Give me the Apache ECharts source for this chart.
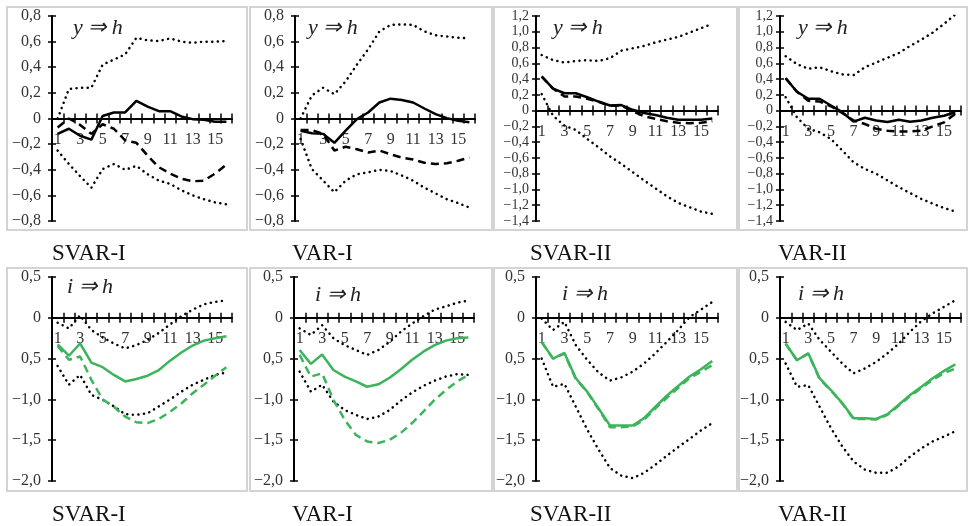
<!DOCTYPE html>
<html>
<head>
<meta charset="utf-8">
<script src="https://cdn.jsdelivr.net/npm/echarts@6/dist/echarts.min.js"></script>
<style>
html,body{margin:0;padding:0;background:#fff;}
#chart{width:970px;height:526px;}
</style>
</head>
<body>
<div id="chart"></div>
<script>
// ---------------- DATA ----------------
const horizons = ['1','2','3','4','5','6','7','8','9','10','11','12','13','14','15','16'];

const yTicksTop = ['−0,8','−0,6','−0,4','−0,2','0','0,2','0,4','0,6','0,8'];
const yTicksTopII = ['−1,4','−1,2','−1,0','−0,8','−0,6','−0,4','−0,2','0','0,2','0,4','0,6','0,8','1,0','1,2'];
const yTicksBottom = ['−2,0','−1,5','−1,0','0,5','0','0,5'];

const panelNames = ['SVAR-I','VAR-I','SVAR-II','VAR-II','SVAR-I','VAR-I','SVAR-II','VAR-II'];
const panelTitles = ['y ⇒ h','y ⇒ h','y ⇒ h','y ⇒ h','i ⇒ h','i ⇒ h','i ⇒ h','i ⇒ h'];

// y => h, SVAR-I
const svarI_y_solid = [-0.12,-0.08,-0.135,-0.165,0.02,0.047,0.047,0.138,0.093,0.057,0.057,0.016,-0.005,-0.01,-0.026,-0.026];
const svarI_y_dash  = [-0.07,0.0,-0.05,-0.12,-0.045,-0.08,-0.17,-0.19,-0.29,-0.38,-0.43,-0.47,-0.49,-0.485,-0.43,-0.36];
const svarI_y_up    = [0.0,0.23,0.24,0.24,0.42,0.46,0.5,0.63,0.61,0.605,0.625,0.6,0.59,0.6,0.6,0.605];
const svarI_y_lo    = [-0.25,-0.355,-0.45,-0.54,-0.395,-0.355,-0.4,-0.37,-0.435,-0.485,-0.51,-0.56,-0.6,-0.63,-0.655,-0.67];
// y => h, VAR-I
const varI_y_solid = [-0.095,-0.115,-0.12,-0.19,-0.095,-0.005,0.047,0.125,0.155,0.145,0.125,0.078,0.034,0.003,-0.018,-0.03];
const varI_y_dash  = [-0.09,-0.09,-0.12,-0.25,-0.22,-0.24,-0.265,-0.25,-0.28,-0.305,-0.32,-0.345,-0.355,-0.35,-0.33,-0.305];
const varI_y_up    = [0.0,0.18,0.24,0.19,0.29,0.42,0.54,0.68,0.73,0.735,0.73,0.68,0.65,0.64,0.63,0.625];
const varI_y_lo    = [-0.16,-0.395,-0.485,-0.575,-0.485,-0.435,-0.42,-0.4,-0.41,-0.445,-0.485,-0.54,-0.585,-0.63,-0.66,-0.695];
// y => h, SVAR-II
const svarII_y_solid = [0.435,0.28,0.22,0.22,0.17,0.115,0.065,0.07,0.01,-0.03,-0.055,-0.09,-0.115,-0.115,-0.115,-0.1];
const svarII_y_dash  = [0.43,0.28,0.18,0.18,0.15,0.11,0.06,0.065,-0.01,-0.07,-0.105,-0.135,-0.155,-0.16,-0.155,-0.135];
const svarII_y_up    = [0.705,0.64,0.61,0.63,0.64,0.63,0.665,0.76,0.79,0.82,0.865,0.9,0.935,0.99,1.045,1.1];
const svarII_y_lo    = [0.21,-0.065,-0.19,-0.245,-0.36,-0.465,-0.58,-0.675,-0.78,-0.885,-0.985,-1.085,-1.17,-1.225,-1.28,-1.31];
// y => h, VAR-II
const varII_y_solid = [0.41,0.24,0.15,0.15,0.065,-0.02,-0.14,-0.09,-0.125,-0.145,-0.115,-0.14,-0.125,-0.09,-0.065,-0.02];
const varII_y_dash  = [0.41,0.24,0.125,0.115,0.055,-0.03,-0.125,-0.17,-0.23,-0.255,-0.265,-0.265,-0.255,-0.2,-0.15,-0.04];
const varII_y_up    = [0.69,0.59,0.53,0.55,0.5,0.46,0.45,0.55,0.61,0.67,0.73,0.82,0.9,0.99,1.1,1.22];
const varII_y_lo    = [0.17,-0.085,-0.23,-0.275,-0.36,-0.505,-0.655,-0.74,-0.8,-0.885,-0.97,-1.045,-1.12,-1.18,-1.235,-1.28];
// i => h, SVAR-I
const svarI_i_solid = [-0.325,-0.465,-0.315,-0.55,-0.605,-0.7,-0.78,-0.75,-0.71,-0.64,-0.525,-0.425,-0.34,-0.28,-0.25,-0.225];
const svarI_i_dash  = [-0.345,-0.515,-0.475,-0.76,-1.0,-1.09,-1.21,-1.28,-1.29,-1.24,-1.15,-1.05,-0.925,-0.82,-0.71,-0.605];
const svarI_i_up    = [-0.06,-0.13,0.03,-0.15,-0.24,-0.315,-0.375,-0.335,-0.27,-0.185,-0.08,0.02,0.1,0.165,0.195,0.215];
const svarI_i_lo    = [-0.59,-0.82,-0.7,-0.945,-1.005,-1.085,-1.18,-1.19,-1.17,-1.085,-1.0,-0.905,-0.82,-0.76,-0.7,-0.67];
// i => h, VAR-I
const varI_i_solid = [-0.395,-0.565,-0.45,-0.64,-0.72,-0.78,-0.845,-0.815,-0.735,-0.63,-0.515,-0.415,-0.335,-0.28,-0.25,-0.24];
const varI_i_dash  = [-0.455,-0.72,-0.68,-1.005,-1.25,-1.435,-1.515,-1.535,-1.495,-1.41,-1.29,-1.15,-1.005,-0.885,-0.78,-0.7];
const varI_i_up    = [-0.13,-0.21,-0.09,-0.25,-0.335,-0.395,-0.455,-0.395,-0.295,-0.17,-0.07,0.02,0.1,0.14,0.185,0.21];
const varI_i_lo    = [-0.66,-0.905,-0.82,-1.025,-1.13,-1.19,-1.24,-1.21,-1.13,-1.015,-0.915,-0.835,-0.77,-0.72,-0.69,-0.7];
// i => h, SVAR-II
const svarII_i_solid = [-0.295,-0.5,-0.43,-0.74,-0.905,-1.11,-1.32,-1.32,-1.32,-1.23,-1.09,-0.955,-0.835,-0.72,-0.63,-0.53];
const svarII_i_dash  = [-0.3,-0.5,-0.44,-0.75,-0.91,-1.12,-1.34,-1.34,-1.33,-1.25,-1.11,-0.98,-0.86,-0.74,-0.66,-0.58];
const svarII_i_up    = [-0.01,-0.15,-0.05,-0.335,-0.515,-0.67,-0.77,-0.73,-0.66,-0.56,-0.435,-0.295,-0.15,0.01,0.1,0.195];
const svarII_i_lo    = [-0.5,-0.845,-0.81,-1.09,-1.37,-1.615,-1.84,-1.935,-1.965,-1.9,-1.8,-1.69,-1.585,-1.485,-1.38,-1.29];
// i => h, VAR-II
const varII_i_solid = [-0.315,-0.52,-0.435,-0.74,-0.885,-1.045,-1.23,-1.23,-1.24,-1.18,-1.065,-0.945,-0.845,-0.74,-0.65,-0.57];
const varII_i_dash  = [-0.32,-0.52,-0.44,-0.75,-0.89,-1.05,-1.24,-1.24,-1.245,-1.19,-1.075,-0.96,-0.86,-0.76,-0.68,-0.62];
const varII_i_up    = [-0.05,-0.15,-0.07,-0.27,-0.415,-0.56,-0.68,-0.62,-0.54,-0.435,-0.315,-0.17,-0.04,0.055,0.135,0.215];
const varII_i_lo    = [-0.56,-0.845,-0.825,-1.09,-1.35,-1.575,-1.76,-1.86,-1.9,-1.9,-1.82,-1.7,-1.6,-1.515,-1.455,-1.39];

// ---------------- LAYOUT ----------------
const FONT = '"Liberation Serif","Times New Roman",serif';
const BLACK = '#000000';
const GREEN = '#3cb45c';
const LABEL = '#333333';

const panels = [
  {grid:{left:52,top:16,width:180,height:205}, box:[7,7,240,223], y:{min:-0.8,max:0.8,interval:0.2,labels:yTicksTop,fs:16,margin:11}, s:[svarI_y_solid,svarI_y_dash,svarI_y_up,svarI_y_lo], color:BLACK, title:[73,28], name:[52,254]},
  {grid:{left:295,top:16,width:180,height:205}, box:[250,7,242,223], y:{min:-0.8,max:0.8,interval:0.2,labels:yTicksTop,fs:16,margin:11}, s:[varI_y_solid,varI_y_dash,varI_y_up,varI_y_lo], color:BLACK, title:[308,28], name:[292,254]},
  {grid:{left:536,top:16,width:182,height:205}, box:[494,7,243,223], y:{min:-1.4,max:1.2,interval:0.2,labels:yTicksTopII,fs:14,margin:7}, s:[svarII_y_solid,svarII_y_dash,svarII_y_up,svarII_y_lo], color:BLACK, title:[553,28], name:[530,254]},
  {grid:{left:780,top:16,width:181,height:205}, box:[739,7,228,223], y:{min:-1.4,max:1.2,interval:0.2,labels:yTicksTopII,fs:14,margin:7}, s:[varII_y_solid,varII_y_dash,varII_y_up,varII_y_lo], color:BLACK, title:[798,28], name:[778,254]},
  {grid:{left:52,top:277,width:180,height:204}, box:[7,268,240,223], y:{min:-2,max:0.5,interval:0.5,labels:yTicksBottom,fs:16,margin:11}, s:[svarI_i_solid,svarI_i_dash,svarI_i_up,svarI_i_lo], color:GREEN, title:[67,287], name:[52,515]},
  {grid:{left:294,top:277,width:180,height:204}, box:[250,268,242,223], y:{min:-2,max:0.5,interval:0.5,labels:yTicksBottom,fs:16,margin:11}, s:[varI_i_solid,varI_i_dash,varI_i_up,varI_i_lo], color:GREEN, title:[315,295], name:[292,515]},
  {grid:{left:536,top:277,width:182,height:204}, box:[494,268,243,223], y:{min:-2,max:0.5,interval:0.5,labels:yTicksBottom,fs:16,margin:11}, s:[svarII_i_solid,svarII_i_dash,svarII_i_up,svarII_i_lo], color:GREEN, title:[562,294], name:[530,515]},
  {grid:{left:780,top:277,width:181,height:204}, box:[739,268,228,223], y:{min:-2,max:0.5,interval:0.5,labels:yTicksBottom,fs:16,margin:11}, s:[varII_i_solid,varII_i_dash,varII_i_up,varII_i_lo], color:GREEN, title:[798,294], name:[778,515]}
];

const grid = [], xAxis = [], yAxis = [], series = [], graphic = [];

panels.forEach((p, g) => {
  const yc = p.y;
  const gm = 2*g, gz = 2*g+1;
  // main grid: series + y axes
  grid.push(Object.assign({containLabel:false}, p.grid));
  // "zero" grid: same left/width, its bottom edge sits at the value 0 of the main y scale
  const zeroH = p.grid.height * (yc.max - 0) / (yc.max - yc.min);
  grid.push({containLabel:false, left:p.grid.left, width:p.grid.width, top:p.grid.top, height:zeroH});

  xAxis.push({
    type:'category', gridIndex:gm, data:horizons, boundaryGap:true, show:false
  });
  yAxis.push({
    type:'value', gridIndex:gm, position:'left', min:yc.min, max:yc.max, interval:yc.interval,
    axisLine:{show:true, onZero:false, lineStyle:{color:'#000', width:2}},
    axisTick:{show:true, inside:false, length:4, lineStyle:{color:'#000', width:1.5}},
    axisLabel:{show:true, margin:yc.margin, color:LABEL, fontFamily:FONT, fontSize:yc.fs,
      formatter:(v)=> yc.labels[Math.round((v - yc.min)/yc.interval)] || ''},
    splitLine:{show:false}
  });
  yAxis.push({
    type:'value', gridIndex:gm, position:'left', min:yc.min, max:yc.max, interval:yc.interval,
    axisLine:{show:false, onZero:false},
    axisTick:{show:true, inside:true, length:4, lineStyle:{color:'#000', width:1.5}},
    axisLabel:{show:false}, splitLine:{show:false}
  });

  xAxis.push({
    type:'category', gridIndex:gz, data:horizons, boundaryGap:true, position:'bottom',
    axisLine:{show:true, onZero:false, lineStyle:{color:'#000', width:2}},
    axisTick:{show:true, inside:false, length:5, interval:0, lineStyle:{color:'#000', width:1.5}},
    axisLabel:{show:true, interval:1, margin:13, color:LABEL, fontFamily:FONT, fontSize:16},
    splitLine:{show:false}
  });
  xAxis.push({
    type:'category', gridIndex:gz, data:horizons, boundaryGap:true, position:'bottom',
    axisLine:{show:false, onZero:false},
    axisTick:{show:true, inside:true, length:5, interval:0, lineStyle:{color:'#000', width:1.5}},
    axisLabel:{show:false}, splitLine:{show:false}
  });
  yAxis.push({
    type:'value', gridIndex:gz, min:0, max:1, show:false
  });

  const xMainIdx = xAxis.length - 3;
  const yMainIdx = yAxis.length - 3;

  const styles = [
    {color:p.color, width:2.5, type:'solid'},
    {color:p.color, width:2.5, type:[8,5]},
    {color:'#000', width:2.5, type:[0.1,5.5], cap:'round'},
    {color:'#000', width:2.5, type:[0.1,5.5], cap:'round'}
  ];
  p.s.forEach((d, k) => {
    series.push({
      type:'line', xAxisIndex:xMainIdx, yAxisIndex:yMainIdx, data:d, symbol:'none', smooth:false,
      lineStyle:styles[k], z: k<2 ? 3 : 2, silent:true, animation:false
    });
  });
  graphic.push({type:'rect', shape:{x:p.box[0], y:p.box[1], width:p.box[2], height:p.box[3]},
    style:{fill:'none', stroke:'#d4d4d4', lineWidth:2}, silent:true, z:-1});
  graphic.push({type:'text', x:p.title[0], y:p.title[1],
    style:{text:panelTitles[g], fill:'#222', font:'italic 22px ' + FONT, textVerticalAlign:'middle', textAlign:'left'}});
  graphic.push({type:'text', x:p.name[0], y:p.name[1],
    style:{text:panelNames[g], fill:'#111', font:'23px ' + FONT, textVerticalAlign:'middle', textAlign:'left'}});
});

const chart = echarts.init(document.getElementById('chart'), null, {renderer:'canvas'});
chart.setOption({
  animation:false,
  backgroundColor:'#ffffff',
  grid, xAxis, yAxis, series, graphic
});
</script>
</body>
</html>
